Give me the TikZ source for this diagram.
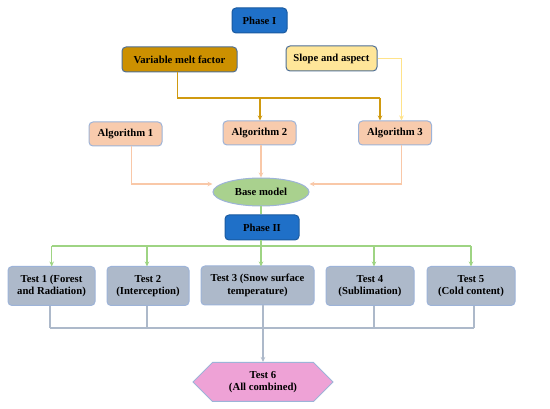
\documentclass[tikz,border=0pt]{standalone}
\usepackage{fontspec}
\setmainfont{Liberation Serif}
\usetikzlibrary{arrows.meta,shapes.geometric,shapes.symbols}
\definecolor{phaseblue}{HTML}{1F70C8}
\definecolor{phaseborder}{HTML}{1A5AA0}
\definecolor{meltfill}{HTML}{CC9000}
\definecolor{meltline}{HTML}{D09A10}
\definecolor{slopefill}{HTML}{FFE699}
\definecolor{slopeline}{HTML}{FFE38A}
\definecolor{algfill}{HTML}{F8CBAD}
\definecolor{algline}{HTML}{F9C8A8}
\definecolor{basefill}{HTML}{A9D18E}
\definecolor{greenline}{HTML}{9ED483}
\definecolor{testfill}{HTML}{ADB9CA}
\definecolor{testline}{HTML}{ADB9CA}
\definecolor{lightborder}{HTML}{9DB3D8}
\definecolor{darkborder}{HTML}{4F6F95}
\definecolor{pinkfill}{HTML}{EEA2D6}
\begin{document}
\begin{tikzpicture}[x=1pt,y=-1pt,
  every node/.style={font=\bfseries\fontsize{10.7}{12.6}\selectfont, align=center, inner sep=0pt},
  rbox/.style={rounded corners=4pt, line width=1pt},
  phasebox/.style={rbox, fill=phaseblue, draw=phaseborder, minimum width=55pt, minimum height=25pt},
  algbox/.style={rbox, fill=algfill, draw=lightborder, minimum width=73pt, minimum height=24pt},
  testbox/.style={rbox, fill=testfill, draw=lightborder, minimum height=39pt},
  conn/.style={line width=1.3pt},
  tip/.style={-{Stealth[length=5pt,width=4.5pt]}}
]
\useasboundingbox (0,0) rectangle (550,409);
\fill[white] (0,0) rectangle (550,409);

% nodes
\node[phasebox] (p1) at (259.5,20.5) {Phase I};
\node[rbox, fill=meltfill, draw=darkborder, minimum width=115pt, minimum height=25pt] (melt) at (179.5,59.5) {Variable melt factor};
\node[rbox, fill=slopefill, draw=darkborder, minimum width=91pt, minimum height=25pt] (slope) at (331.5,58.5) {Slope and aspect};
\node[algbox] (a1) at (125.5,134) {Algorithm 1};
\node[algbox] (a2) at (259.5,133) {Algorithm 2};
\node[algbox] (a3) at (395,133) {Algorithm 3};
\node[ellipse, fill=basefill, draw=lightborder, line width=1pt, minimum width=96pt, minimum height=28pt] (base) at (261,192) {Base model};
\node[phasebox, minimum width=74pt] (p2) at (262,227.5) {Phase II};
\node[testbox, minimum width=87pt] (t1) at (51.5,286) {Test 1 (Forest\\and Radiation)};
\node[testbox, minimum width=82pt] (t2) at (148,286) {Test 2\\(Interception)};
\node[testbox, minimum width=113pt] (t3) at (257.5,285.5) {Test 3 (Snow surface\\temperature)};
\node[testbox, minimum width=88pt] (t4) at (370,286) {Test 4\\(Sublimation)};
\node[testbox, minimum width=88pt] (t5) at (471,286) {Test 5\\(Cold content)};
\node[signal, signal to=west and east, signal pointer angle=90, fill=pinkfill, draw=lightborder, line width=1pt, minimum width=140pt, minimum height=39pt] (t6) at (263,382) {Test 6\\(All combined)};

% phase I connectors
\coordinate (mj) at (177.7,98);
\coordinate (m2) at (260,98);
\coordinate (m3) at (380,98);
\draw[conn, meltline] (melt.south -| mj) -- (mj) -- (m3);
\draw[conn, meltline, tip] (m2) -- (m2 |- a2.north);
\draw[conn, meltline, tip] (m3) -- (m3 |- a3.north);
\coordinate (sj) at (401.5,58.5);
\draw[conn, slopeline, tip] (slope.east) -- (sj) -- (sj |- a3.north);

\coordinate (l1) at (131.7,184);
\coordinate (l3) at (401.5,184);
\draw[conn, algline, tip] (a1.south -| l1) -- (l1) -- (base.west |- l1);
\draw[conn, algline, tip] (a2.south -| base.north) -- (base.north);
\draw[conn, algline, tip] (a3.south -| l3) -- (l3) -- (base.east |- l3);

% phase II
\draw[conn, greenline] (base.south) -- (base.south |- p2.north);
\coordinate (gj) at (261,246);
\draw[conn, greenline] (p2.south -| gj) -- (gj);
\coordinate (g1) at (51.7,246);
\coordinate (g5) at (471,246);
\draw[conn, greenline] (g1) -- (g5);
\foreach \x/\t in {51.7/t1,147/t2,261/t3,374/t4,471/t5}
  \draw[conn, greenline, tip] (\x,246) -- (\x,266.5);

% tests to test 6
\foreach \x/\t in {50/t1,147/t2,374/t4,474/t5}
  \draw[conn, testline] (\t.south -| \x,0) -- (\x,328);
\coordinate (b1) at (50,328);
\coordinate (b5) at (474,328);
\draw[conn, testline] (b1) -- (b5);
\coordinate (b3) at (263,305);
\draw[conn, testline, tip] (t3.south -| b3) -- (b3 |- t6.north);
\end{tikzpicture}
\end{document}
